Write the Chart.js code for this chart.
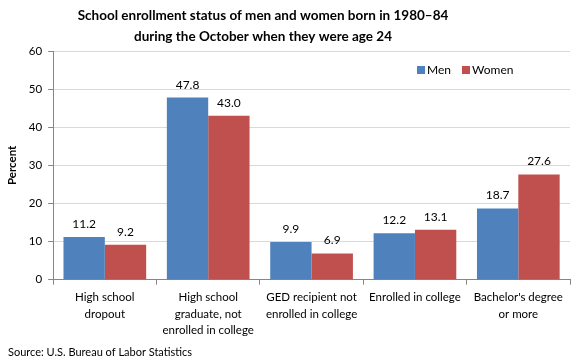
<!DOCTYPE html>
<html><head><meta charset="utf-8">
<script src="https://cdn.jsdelivr.net/npm/chart.js@4"></script>
<style>html,body{margin:0;padding:0;background:#fff}#w{width:580px;height:363px}</style>
</head><body><div id="w"><canvas id="c"></canvas></div>
<script>
const categories = [["High school","dropout"],["High school","graduate, not","enrolled in college"],["GED recipient not","enrolled in college"],["Enrolled in college"],["Bachelor's degree","or more"]];
const men = [11.2, 47.8, 9.9, 12.2, 18.7];
const women = [9.2, 43.0, 6.9, 13.1, 27.6];
const yTicks = [0,10,20,30,40,50,60];
const titleLines = ["School enrollment status of men and women born in 1980\u201384","during the October when they were age 24"];
const source = "Source: U.S. Bureau of Labor Statistics";
const FONT = "Lato, 'Liberation Sans', sans-serif";

const extras = {
  id:'extras',
  afterDatasetsDraw(chart){
    const ctx = chart.ctx;
    ctx.save();
    ctx.fillStyle = '#000';
    ctx.font = '12px ' + FONT;
    ctx.textAlign = 'center';
    ctx.textBaseline = 'alphabetic';
    chart.data.datasets.forEach((ds,i)=>{
      chart.getDatasetMeta(i).data.forEach((bar,j)=>{
        ctx.fillText(ds.data[j].toFixed(1), bar.x, bar.y - 9);
      });
    });
    // title
    ctx.font = 'bold 13.5px ' + FONT;
    ctx.textBaseline = 'middle';
    ctx.fillText(titleLines[0], 263, 16);
    ctx.fillText(titleLines[1], 263, 37);
    // source
    ctx.font = '11px ' + FONT;
    ctx.textAlign = 'left';
    ctx.fillText(source, 8, 352);
    // legend
    const items = [['Men','#4F81BD'],['Women','#C0504D']];
    let x = 417;
    ctx.font = '12px ' + FONT;
    items.forEach(([t,c])=>{
      ctx.fillStyle = c;
      ctx.fillRect(x, 66, 8, 8);
      ctx.fillStyle = '#000';
      ctx.fillText(t, x + 10, 70.5);
      x += 10 + ctx.measureText(t).width + 11;
    });
    ctx.restore();
  }
};

new Chart(document.getElementById('c'), {
  type:'bar',
  data:{labels:categories, datasets:[
    {label:'Men', data:men, backgroundColor:'#4F81BD'},
    {label:'Women', data:women, backgroundColor:'#C0504D'}
  ]},
  options:{
    responsive:true, maintainAspectRatio:false, animation:false,
    layout:{padding:{top:51, right:10, bottom:20, left:5}},
    plugins:{legend:{display:false}, title:{display:false}, tooltip:{enabled:false}},
    datasets:{bar:{categoryPercentage:0.8, barPercentage:1.0}},
    scales:{
      x:{
        grid:{display:true, drawOnChartArea:false, offset:true, color:'#868686', tickLength:5},
        border:{color:'#868686'},
        ticks:{font:{family:FONT, size:11.5, lineHeight:1.4}, color:'#000', maxRotation:0, autoSkip:false, padding:5}
      },
      y:{
        min:0, max:60,
        afterBuildTicks(axis){ axis.ticks = yTicks.map(v=>({value:v})); },
        grid:{color:'#D9D9D9', tickLength:5, tickColor:'#868686'},
        border:{color:'#868686'},
        ticks:{font:{family:FONT, size:11.5}, color:'#000', padding:6},
        title:{display:true, text:'Percent', font:{family:FONT, size:11.5, weight:'bold'}, color:'#000', padding:{top:0,bottom:4}}
      }
    }
  },
  plugins:[extras]
});
</script></body></html>
